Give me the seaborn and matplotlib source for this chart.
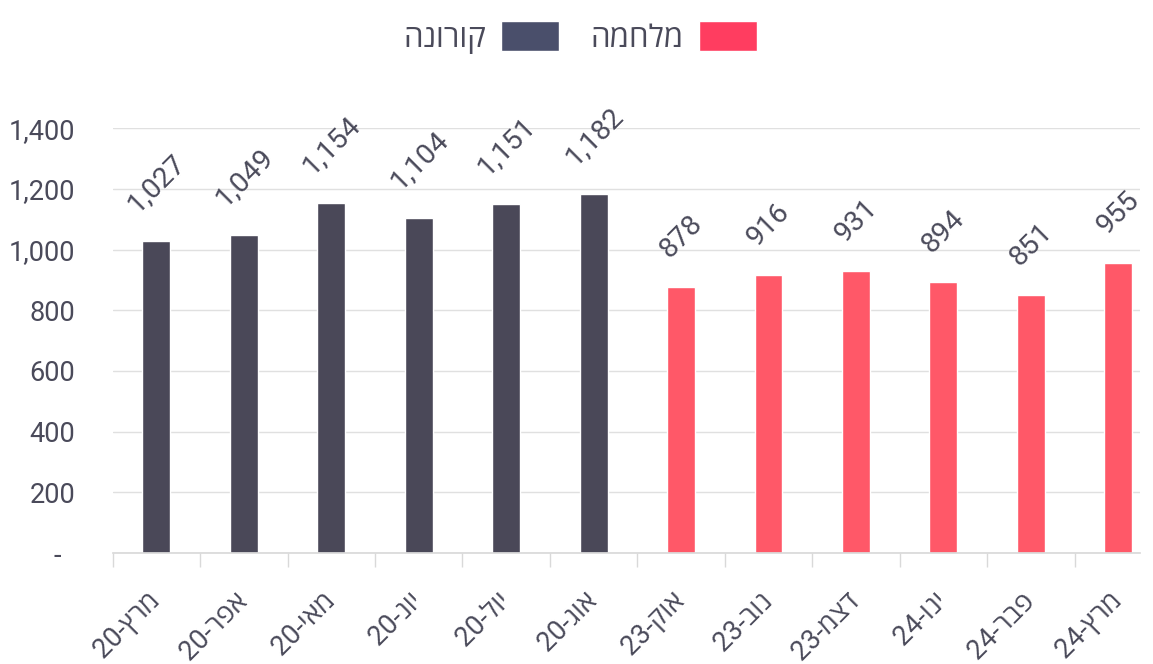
import numpy as np
import pandas as pd
import seaborn as sns
import matplotlib.pyplot as plt
from matplotlib.patches import Patch
from matplotlib.ticker import FuncFormatter, FixedLocator

# data
months = ["מרץ-20", "אפר-20", "מאי-20", "יונ-20", "יול-20", "אוג-20",
          "אוק-23", "נוב-23", "דצמ-23", "ינו-24", "פבר-24", "מרץ-24"]
values = [1027, 1049, 1154, 1104, 1151, 1182, 878, 916, 931, 894, 851, 955]
groups = ["קורונה"] * 6 + ["מלחמה"] * 6

bar_colors = {"קורונה": "#4a4858", "מלחמה": "#ff5868"}
legend_colors = {"קורונה": "#4a4f6b", "מלחמה": "#ff3d60"}
text_color = "#4a4a5a"


def visual(label):
    # matplotlib has no bidi support: put the Hebrew part in visual order
    heb, num = label.split("-")
    return num + "-" + heb[::-1]


df = pd.DataFrame({"month": months, "value": values, "group": groups})

sns.set_theme(style="white")
plt.rcParams['font.family'] = ['Roboto', 'Open Sans', 'DejaVu Sans']

fig = plt.figure(figsize=(11.53, 6.64), dpi=100)
ax = fig.add_axes([0.0978, 0.167, 0.891, 0.640])

sns.barplot(data=df, x="month", y="value", hue="group", palette=bar_colors,
            dodge=False, width=0.32, legend=False, ax=ax, saturation=1)

# the last category is cut by the right edge, as in the reference
ax.set_xlim(-0.5, 11.25)
ax.set_ylim(0, 1400)
ax.set_yticks(np.arange(0, 1401, 200))
ax.yaxis.set_major_formatter(FuncFormatter(lambda v, p: "-  " if v == 0 else f"{int(v):,}"))
ax.grid(axis="y", color="#e0e0e0", linewidth=1)
ax.set_axisbelow(True)

ax.set_xticks(range(len(months)))
# trailing spaces push the rotated labels a bit down-left of the tick
ax.set_xticklabels([visual(m) + "  " for m in months], rotation=45, ha="right",
                   rotation_mode="anchor", fontsize=19.5, color=text_color)
ax.xaxis.set_minor_locator(FixedLocator(np.arange(-0.5, 11.0, 1)))
ax.tick_params(axis="x", which="major", length=0, pad=18)
ax.tick_params(axis="x", which="minor", length=10, color="#d9d9d9", width=1, bottom=True)
ax.tick_params(axis="y", length=0, labelsize=19.5, labelcolor=text_color, pad=27)

for s in ["top", "right", "left"]:
    ax.spines[s].set_visible(False)
ax.spines["bottom"].set_color("#d9d9d9")
ax.set_xlabel("")
ax.set_ylabel("")

for cont in ax.containers:
    labels = [f"{int(v):,}" if not np.isnan(v) else "" for v in cont.datavalues]
    ax.bar_label(cont, labels=labels, rotation=45, padding=17, fontsize=20.5,
                 color=text_color)

handles = [Patch(facecolor=legend_colors[g], label=g[::-1]) for g in ["קורונה", "מלחמה"]]
fig.legend(handles=handles, loc="center", bbox_to_anchor=(0.503, 0.944), ncol=2,
           frameon=False, markerfirst=False, fontsize=22.5, handlelength=1.85,
           handleheight=1.12, columnspacing=1.0, handletextpad=0.5,
           labelcolor=text_color)

fig.savefig("out.png", dpi=100)
